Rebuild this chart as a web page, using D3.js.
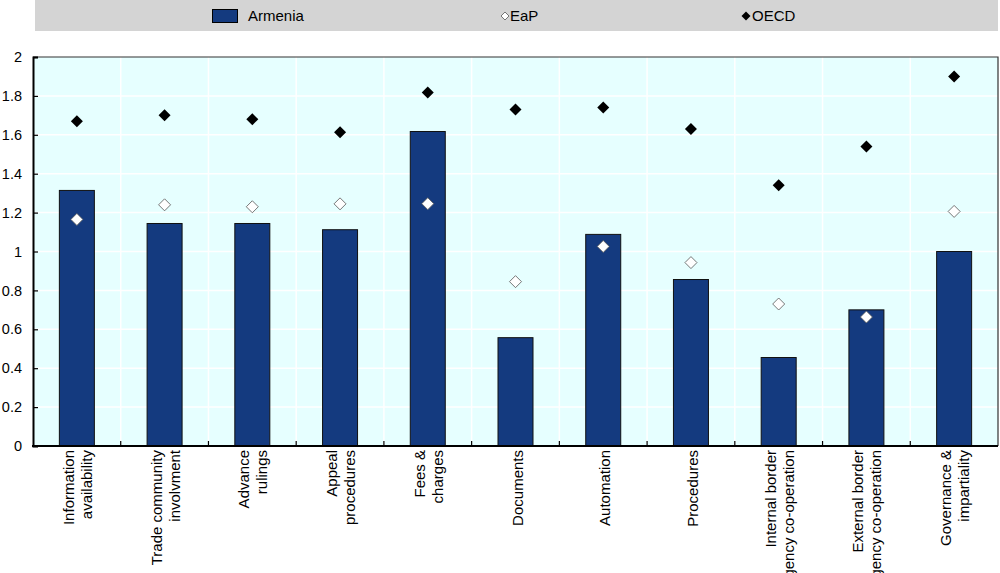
<!DOCTYPE html>
<html>
<head>
  <meta charset="UTF-8">
  <style>
    body { margin: 0; background: #fff; }
    svg { font-family: "Liberation Sans", Arial, sans-serif; }
  </style>
</head>
<body>
  <svg></svg>
<script src="https://cdn.jsdelivr.net/npm/d3@7"></script>
<script>

    let width = 1000;
    let height = 573;

    // data
    let categories = [
      ["Information", "availability"],
      ["Trade community", "involvment"],
      ["Advance", "rulings"],
      ["Appeal", "procedures"],
      ["Fees &", "charges"],
      ["Documents"],
      ["Automation"],
      ["Procedures"],
      ["Internal border", "agency co-operation"],
      ["External border", "agency co-operation"],
      ["Governance &", "impartiality"]
    ];
    let armenia = [1.314, 1.144, 1.144, 1.112, 1.617, 0.557, 1.088, 0.856, 0.455, 0.70, 1.0];
    let eap = [1.165, 1.24, 1.23, 1.245, 1.246, 0.845, 1.026, 0.943, 0.73, 0.663, 1.206];
    let oecd = [1.67, 1.70, 1.68, 1.613, 1.818, 1.73, 1.74, 1.63, 1.34, 1.54, 1.90];
    let yTicks = [0, 0.2, 0.4, 0.6, 0.8, 1, 1.2, 1.4, 1.6, 1.8, 2];

    let margin = {left: 33, right: 2, top: 57, bottom: 127};

    let svg = d3.select("svg")
        .attr("width", width)
        .attr("height", height);

    let x = d3.scaleBand()
      .domain(d3.range(categories.length))
      .range([margin.left, width - margin.right])
      .paddingInner(0).paddingOuter(0);

    let y = d3.scaleLinear()
      .domain([0, 2])
      .range([height - margin.bottom, margin.top]);

    // rotated square marker
    function diamondPath(r) {
      return "M0," + (-r) + "L" + r + ",0L0," + r + "L" + (-r) + ",0Z";
    }

    // legend band
    svg.append("rect")
      .attr("x", 35).attr("y", 0)
      .attr("width", 963).attr("height", 31)
      .attr("fill", "#d4d4d4");

    let leg = svg.append("g").attr("font-size", 15);
    leg.append("rect")
      .attr("x", 212.5).attr("y", 9.5)
      .attr("width", 25).attr("height", 13)
      .attr("fill", "#143a7f").attr("stroke", "#000").attr("stroke-width", 1);
    leg.append("text").attr("x", 248).attr("y", 21).text("Armenia");
    leg.append("path")
      .attr("d", diamondPath(4))
      .attr("transform", "translate(505,16)")
      .attr("fill", "#fff").attr("stroke", "#555").attr("stroke-width", 0.8);
    leg.append("text").attr("x", 510).attr("y", 21).text("EaP");
    leg.append("path")
      .attr("d", diamondPath(4.5))
      .attr("transform", "translate(746,16)")
      .attr("fill", "#000");
    leg.append("text").attr("x", 752).attr("y", 21).text("OECD");

    // plot background
    svg.append("rect")
      .attr("x", margin.left).attr("y", margin.top)
      .attr("width", width - margin.left - margin.right)
      .attr("height", height - margin.top - margin.bottom)
      .attr("fill", "#e6ffff");

    // grid
    svg.append("g")
      .selectAll("line")
      .data(yTicks.slice(1, -1))
      .enter()
      .append("line")
        .attr("x1", margin.left).attr("x2", width - margin.right)
        .attr("y1", d => y(d)).attr("y2", d => y(d))
        .attr("stroke", "#fff").attr("stroke-width", 1.5);

    svg.append("g")
      .selectAll("line")
      .data(d3.range(1, categories.length))
      .enter()
      .append("line")
        .attr("x1", d => x(d)).attr("x2", d => x(d))
        .attr("y1", margin.top).attr("y2", height - margin.bottom)
        .attr("stroke", "#fff").attr("stroke-width", 1.5);

    // bars
    let bw = 35;
    svg.append("g")
      .selectAll("rect")
      .data(armenia)
      .enter()
      .append("rect")
        .attr("x", (d, i) => x(i) + x.bandwidth() / 2 - bw / 2)
        .attr("y", d => y(d))
        .attr("width", bw)
        .attr("height", d => y(0) - y(d))
        .attr("fill", "#143a7f")
        .attr("stroke", "#111")
        .attr("stroke-width", 1);

    // markers
    svg.append("g")
      .selectAll("path")
      .data(eap)
      .enter()
      .append("path")
        .attr("d", diamondPath(6))
        .attr("transform", (d, i) => "translate(" + (x(i) + x.bandwidth() / 2) + "," + y(d) + ")")
        .attr("fill", "#fff").attr("stroke", "#555").attr("stroke-width", 0.8);

    svg.append("g")
      .selectAll("path")
      .data(oecd)
      .enter()
      .append("path")
        .attr("d", diamondPath(6))
        .attr("transform", (d, i) => "translate(" + (x(i) + x.bandwidth() / 2) + "," + y(d) + ")")
        .attr("fill", "#000");

    // frame top/right
    svg.append("path")
      .attr("d", "M" + margin.left + "," + margin.top + "H" + (width - margin.right) + "V" + y(0))
      .attr("fill", "none").attr("stroke", "#333").attr("stroke-width", 1.2);

    // y axis
    let yAxis = svg.append("g")
      .attr("transform", "translate(" + margin.left + ",0)")
      .call(d3.axisLeft(y).tickValues(yTicks).tickSize(-5).tickPadding(11)
        .tickFormat(d => d3.format("~g")(d)));
    yAxis.select(".domain").attr("stroke", "#000").attr("stroke-width", 2);
    yAxis.selectAll(".tick line").attr("stroke", "#000").attr("stroke-width", 1.2);
    yAxis.selectAll("text").attr("font-size", 14.5).attr("fill", "#000")
      .attr("font-family", "Liberation Sans, Arial, sans-serif");

    // x axis with ticks at category boundaries
    let xb = svg.append("g");
    xb.selectAll("line")
      .data(d3.range(1, categories.length))
      .enter()
      .append("line")
        .attr("x1", d => x(d)).attr("x2", d => x(d))
        .attr("y1", y(0)).attr("y2", y(0) - 5)
        .attr("stroke", "#000").attr("stroke-width", 1.2);
    xb.append("line")
      .attr("x1", margin.left - 1).attr("x2", width - margin.right)
      .attr("y1", y(0)).attr("y2", y(0))
      .attr("stroke", "#000").attr("stroke-width", 2);

    let labels = xb.selectAll("text.lbl")
      .data(categories)
      .enter()
      .append("text")
        .attr("class", "lbl")
        .attr("font-size", 15)
        .attr("text-anchor", "end")
        .attr("transform", (d, i) => {
          let cx = x(i) + x.bandwidth() / 2;
          let off = d.length === 2 ? -3 : 7;
          return "translate(" + (cx + off) + "," + (y(0) + 4) + ") rotate(-90)";
        });
    labels.selectAll("tspan")
      .data(d => d)
      .enter()
      .append("tspan")
        .attr("x", 0)
        .attr("dy", (d, i) => i === 0 ? 0 : 18)
        .text(d => d);

</script>
</body>
</html>
